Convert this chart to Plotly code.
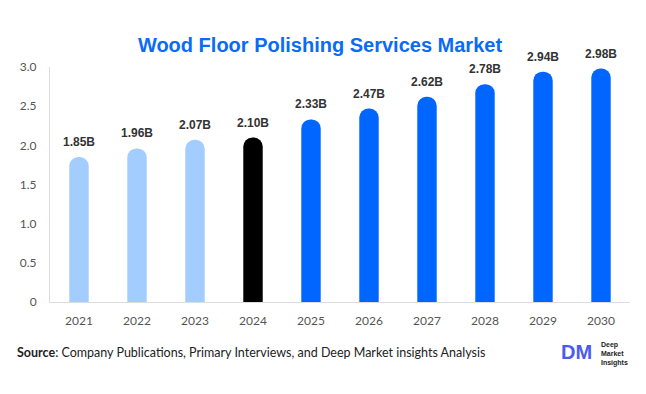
import plotly.graph_objects as go

years = ["2021", "2022", "2023", "2024", "2025", "2026", "2027", "2028", "2029", "2030"]
values = [1.85, 1.96, 2.07, 2.10, 2.33, 2.47, 2.62, 2.78, 2.94, 2.98]
labels = ["1.85B", "1.96B", "2.07B", "2.10B", "2.33B", "2.47B", "2.62B", "2.78B", "2.94B", "2.98B"]
colors = ["#A3CDFE"] * 3 + ["#000000"] + ["#0066FF"] * 6
y_ticks = [0, 0.5, 1.0, 1.5, 2.0, 2.5, 3.0]
y_tick_text = ["0", "0.5", "1.0", "1.5", "2.0", "2.5", "3.0"]

fig = go.Figure(go.Bar(
    x=years, y=values,
    marker=dict(color=colors, cornerradius="50%", line=dict(width=0)),
    hoverinfo="skip",
))

# category index positions of each bar on the category axis
for i, (v, lab) in enumerate(zip(values, labels)):
    fig.add_annotation(x=i, y=v, text="<b>%s</b>" % lab, showarrow=False,
                       yanchor="middle", yshift=15,
                       font=dict(family="Liberation Sans, Arial, sans-serif", size=12, color="#333333"))

fig.update_layout(
    width=638, height=386,
    margin=dict(l=38, r=16, t=59, b=92),
    paper_bgcolor="white", plot_bgcolor="white",
    bargap=0.665,
    showlegend=False,
    title=dict(text="<b>Wood Floor Polishing Services Market</b>", xref="container", x=0.489, xanchor="center",
               yref="container", y=1 - 37 / 386, yanchor="middle",
               font=dict(family="Liberation Sans, Arial, sans-serif", size=20, color="#0A6CF5")),
    font=dict(family="Lato, Open Sans, sans-serif", size=12, color="#555555"),
)
fig.update_xaxes(type="category", range=[-0.5, len(years) - 0.5], showgrid=False, showline=True,
                 linecolor="#DDDDDD", linewidth=1,
                 ticks="", tickfont=dict(size=12, color="#555555"), ticklabelstandoff=8)
fig.update_yaxes(range=[0, 3.0], tickvals=y_ticks, ticktext=y_tick_text, showgrid=False,
                 showline=True, linecolor="#DDDDDD", linewidth=1, zeroline=False,
                 ticks="", tickfont=dict(size=12, color="#555555"), ticklabelstandoff=10)

fig.add_annotation(xref="paper", yref="paper", x=-0.061, y=-0.213, xanchor="left", yanchor="middle",
                   showarrow=False,
                   text="<b>Source</b>: Company Publications, Primary Interviews, and Deep Market insights Analysis",
                   font=dict(family="Lato, Open Sans, sans-serif", size=12.5, color="#222222"))
fig.add_annotation(xref="paper", yref="paper", x=0.907, y=-0.213, xanchor="center", yanchor="middle",
                   showarrow=False, text="<b>DM</b>",
                   font=dict(family="Liberation Sans, Arial, sans-serif", size=20, color="#4B5BF0"))
fig.add_annotation(xref="paper", yref="paper", x=0.947, y=-0.221, xanchor="left", yanchor="middle",
                   showarrow=False, align="left", text="<b>Deep<br>Market<br>Insights</b>",
                   font=dict(family="Liberation Sans, Arial, sans-serif", size=7, color="#222222"))

fig.write_html("out.html")
